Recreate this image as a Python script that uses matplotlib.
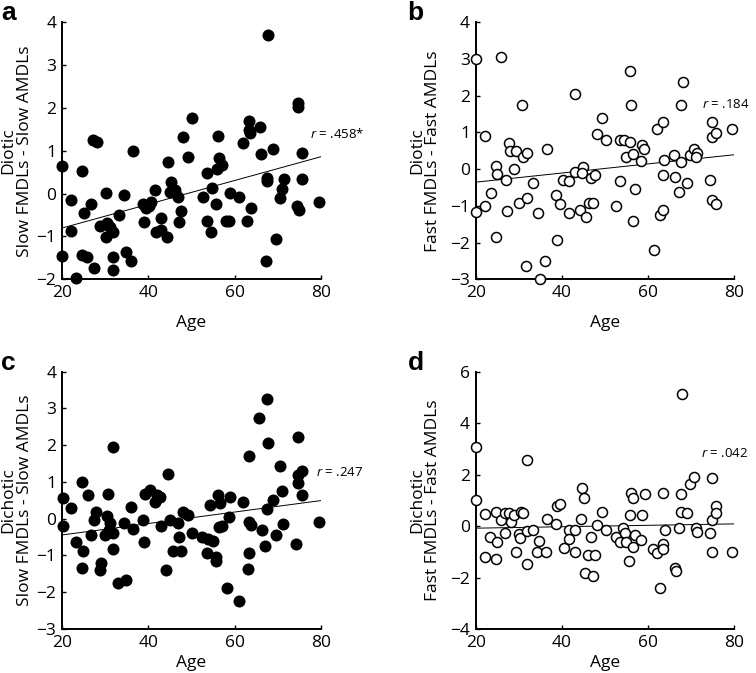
import matplotlib
matplotlib.use('Agg')
import matplotlib.pyplot as plt
import numpy as np

###############################
###          DATA           ###
###############################
# panel a: diotic, slow FMDLs - slow AMDLs
ages_a = [67.8, 74.7, 74.7, 50.2, 63.3, 63.3, 63.6, 65.9, 27.2, 28.2, 48.0, 56.1, 62.0, 36.6, 66.2,
          68.8, 75.6, 49.3, 56.5, 44.6, 20.0, 24.6, 57.0, 55.9, 53.6, 45.4, 67.6, 67.6, 71.4, 75.6,
          54.8, 41.7, 45.1, 46.2, 46.8, 70.9, 59.0, 61.1, 52.6, 30.2, 34.5, 22.1, 26.7, 70.5, 79.5,
          38.7, 40.1, 40.6, 55.6, 39.5, 63.7, 74.4, 74.8, 25.2, 33.2, 47.7, 42.9, 53.6, 58.0, 58.8,
          62.9, 47.2, 39.1, 28.9, 30.4, 31.2, 31.9, 22.1, 41.8, 43.0, 44.3, 54.5, 30.2, 69.6, 20.0,
          24.6, 25.9, 31.9, 34.9, 36.1, 27.5, 31.9, 67.2, 23.3]
vals_a = [3.69, 2.11, 2.01, 1.77, 1.70, 1.49, 1.42, 1.56, 1.25, 1.20, 1.31, 1.35, 1.17, 0.99, 0.92,
          1.04, 0.94, 0.86, 0.84, 0.74, 0.65, 0.53, 0.67, 0.57, 0.47, 0.26, 0.36, 0.30, 0.35, 0.35,
          0.14, 0.085, 0.045, 0.085, -0.07, 0.10, 0.007, -0.07, -0.09, 0.007, -0.03, -0.16, -0.24, -0.11, -0.20,
          -0.24, -0.28, -0.20, -0.24, -0.34, -0.34, -0.29, -0.38, -0.45, -0.50, -0.41, -0.58, -0.63, -0.63, -0.63,
          -0.63, -0.67, -0.67, -0.76, -0.69, -0.79, -0.89, -0.87, -0.89, -0.85, -1.02, -0.89, -1.01, -1.06, -1.45,
          -1.43, -1.49, -1.49, -1.36, -1.57, -1.74, -1.78, -1.57, -1.96]

# panel b: diotic, fast FMDLs - fast AMDLs
ages_b = [20.0, 25.9, 22.2, 20.0, 22.2, 23.5, 24.7, 25.0, 27.0, 24.7, 27.2, 27.7, 28.0, 29.4, 29.0,
          30.7, 31.1, 32.0, 30.1, 32.0, 33.4, 34.5, 31.8, 36.2, 34.9, 36.6, 38.6, 39.6, 39.0, 40.2,
          41.7, 41.7, 43.0, 43.0, 45.0, 44.8, 44.2, 45.6, 46.7, 46.4, 47.3, 47.7, 48.1, 50.2, 49.4,
          52.7, 53.5, 53.5, 54.4, 54.9, 55.8, 55.8, 56.1, 56.6, 57.1, 56.6, 58.6, 59.1, 58.3, 61.5,
          62.2, 63.5, 63.4, 63.7, 62.8, 63.5, 66.0, 66.3, 67.3, 67.6, 69.0, 68.2, 67.6, 69.7, 70.7,
          71.4, 71.1, 75.0, 74.8, 75.8, 74.5, 74.8, 75.8, 79.6]
vals_b = [2.99, 3.04, 0.90, -1.16, -1.00, -0.64, 0.09, -0.14, -0.30, -1.84, -1.14, 0.70, 0.50, 0.49, -0.01,
          1.75, 0.34, 0.43, -0.92, -0.80, -0.39, -1.19, -2.64, -2.50, -2.98, 0.55, -0.71, -0.96, -1.93, -0.30,
          -0.32, -1.19, 2.05, -0.07, 0.07, -0.10, -1.11, -1.30, -0.25, -0.91, -0.91, -0.16, 0.96, 0.79, 1.38,
          -1.01, -0.32, 0.79, 0.79, 0.34, 0.75, 2.68, 1.75, 0.41, -0.53, -1.40, 0.66, 0.54, 0.23, -2.20,
          1.09, 1.29, -0.16, 0.25, -1.25, -1.11, 0.39, -0.21, -0.62, 0.20, -0.39, 2.38, 1.75, 0.38, 0.55,
          0.45, 0.34, 1.29, 0.88, 0.99, -0.30, -0.84, -0.95, 1.09]

# panel c: dichotic, slow FMDLs - slow AMDLs
ages_c = [67.6, 65.7, 67.8, 74.7, 31.8, 63.3, 70.4, 44.6, 74.7, 75.6, 74.7, 24.6, 20.2, 22.1, 26.1,
          30.6, 39.3, 40.4, 42.0, 42.7, 41.6, 36.1, 27.9, 27.5, 30.4, 31.2, 31.0, 31.9, 30.0, 20.2,
          23.3, 25.0, 26.8, 24.6, 29.2, 28.9, 31.8, 34.4, 36.6, 38.7, 39.1, 33.1, 34.9, 42.9, 45.1,
          46.8, 48.0, 49.3, 47.1, 45.8, 47.5, 44.1, 50.2, 52.5, 53.9, 54.9, 53.6, 55.7, 55.7, 54.3,
          56.1, 56.6, 59.0, 58.6, 56.3, 57.0, 58.2, 61.1, 61.9, 63.3, 63.7, 66.3, 63.3, 63.0, 67.1,
          67.6, 68.8, 70.9, 69.6, 71.3, 75.5, 74.2, 79.5]
vals_c = [3.25, 2.75, 2.05, 2.21, 1.96, 1.71, 1.44, 1.21, 1.19, 1.30, 0.96, 1.01, 0.56, 0.28, 0.65,
          0.66, 0.66, 0.78, 0.65, 0.60, 0.45, 0.31, 0.19, -0.03, 0.08, -0.12, -0.31, -0.40, -0.44, -0.19,
          -0.64, -0.87, -0.44, -1.33, -1.21, -1.39, -0.83, -0.12, -0.29, -0.04, -0.64, -1.74, -1.68, -0.20, -0.04,
          -0.12, 0.17, 0.10, -0.51, -0.89, -0.87, -1.39, -0.38, -0.49, -0.55, -0.61, -0.94, -1.03, -1.14, 0.36,
          0.65, 0.44, 0.60, 0.06, -0.22, -0.19, -1.89, -2.23, 0.45, -0.08, -0.18, -0.31, -0.94, -1.38, -0.74,
          0.26, 0.51, 0.76, -0.44, -0.14, 0.65, -0.69, -0.10]

# panel d: dichotic, fast FMDLs - fast AMDLs
ages_d = [20.1, 20.1, 68.0, 32.0, 22.2, 24.7, 25.9, 26.8, 27.8, 28.1, 28.9, 30.5, 31.1, 23.3, 25.0,
          26.8, 22.2, 24.7, 30.1, 30.3, 29.4, 32.0, 33.2, 32.0, 34.8, 34.3, 36.3, 36.6, 38.6, 38.9,
          39.7, 40.5, 41.7, 41.7, 43.0, 43.0, 44.4, 44.8, 45.1, 46.9, 46.1, 47.7, 45.5, 47.3, 48.1,
          49.4, 50.2, 52.7, 53.5, 54.2, 54.6, 54.9, 55.8, 56.0, 56.6, 57.0, 56.6, 58.4, 55.7, 58.6,
          59.3, 61.2, 62.1, 63.4, 63.5, 63.9, 63.4, 62.9, 66.2, 66.5, 67.2, 67.6, 67.8, 69.0, 69.7,
          70.7, 71.1, 71.4, 75.0, 74.5, 74.8, 75.8, 75.8, 74.9, 79.6]
vals_d = [3.06, 1.01, 5.13, 2.57, 0.46, 0.56, 0.24, 0.50, 0.52, 0.17, 0.43, 0.56, 0.50, -0.41, -0.63,
          -0.26, -1.21, -1.28, -0.31, -0.48, -1.00, -0.18, -0.15, -1.49, -0.57, -1.00, -1.00, 0.27, 0.08, 0.78,
          0.86, -0.84, -0.15, -0.50, -0.15, -1.00, 0.27, 1.49, 1.08, -0.41, -1.13, -1.13, -1.84, -1.93, 0.04,
          0.56, -0.15, -0.41, -0.60, -0.09, -0.28, -0.63, 0.43, 1.27, 1.08, -0.35, -0.80, -0.54, -1.34, 0.43,
          1.25, -0.90, -1.06, -0.70, -0.90, -0.15, 1.30, -2.42, -1.64, -1.73, -0.06, 1.23, 0.56, 0.50, 1.62,
          1.92, -0.06, -0.22, 1.88, -0.28, 0.24, 0.79, 0.49, -1.00, -1.00]

r_labels = ['.458*', '.184', '.247', '.042']
ylabels = ['Diotic\nSlow FMDLs - Slow AMDLs', 'Diotic\nFast FMDLs - Fast AMDLs',
           'Dichotic\nSlow FMDLs - Slow AMDLs', 'Dichotic\nFast FMDLs - Fast AMDLs']
panel_letters = ['a', 'b', 'c', 'd']
ylims = [(-2, 4), (-3, 4), (-3, 4), (-4, 6)]
yticks = [np.arange(-2, 5), np.arange(-3, 5), np.arange(-3, 5), np.arange(-4, 7, 2)]
xticks = [20, 40, 60, 80]
# where the r text sits (age, value)
r_pos = [(77.5, 1.40), (72.6, 1.75), (78.8, 1.26), (72.4, 2.83)]


###############################
###        STYLE            ###
###############################
plt.rcParams['font.family'] = ['Open Sans', 'DejaVu Sans']
plt.rcParams['mathtext.fontset'] = 'custom'
plt.rcParams['mathtext.it'] = 'Open Sans:italic'
plt.rcParams['mathtext.rm'] = 'Open Sans'
FS = 12.5

fig = plt.figure(figsize=(7.56, 6.73), dpi=100)

# axes boxes in figure fractions
boxes = [[0.0816, 0.585, 0.343, 0.382],
         [0.6292, 0.585, 0.3417, 0.382],
         [0.0816, 0.0654, 0.343, 0.3823],
         [0.6292, 0.0654, 0.3417, 0.3823]]
label_x = [-0.112, -0.135, -0.112, -0.135]
xlabel_pad = [10, 10, 3, 3]
# panel letter anchors (top-left corner, figure fractions)
letter_pos = [(0.001, 0.998), (0.539, 0.998), (0.001, 0.478), (0.539, 0.478)]

all_ages = [ages_a, ages_b, ages_c, ages_d]
all_vals = [vals_a, vals_b, vals_c, vals_d]
filled = [True, False, True, False]

for i in range(4):
    ax = fig.add_axes(boxes[i])
    x = np.array(all_ages[i])
    y = np.array(all_vals[i])

    # scatter
    if filled[i]:
        ax.scatter(x, y, s=75, c='black', edgecolors='black', linewidths=0, clip_on=False, zorder=3)
    else:
        ax.scatter(x, y, s=52, facecolors='white', edgecolors='black', linewidths=1.1, clip_on=False, zorder=3)

    # least squares line
    slope, icept = np.polyfit(x, y, 1)
    xl = np.array([20, 80])
    ax.plot(xl, slope * xl + icept, color='black', lw=0.7, zorder=2)

    ax.text(r_pos[i][0], r_pos[i][1], '$r$ = ' + r_labels[i], fontsize=9.5, va='center', ha='left')

    ax.set_xlim(20, 80)
    ax.set_ylim(*ylims[i])
    ax.set_xticks(xticks)
    ax.set_yticks(yticks[i])
    ax.tick_params(direction='in', length=3, width=1, labelsize=FS, pad=4)
    ax.spines['top'].set_visible(False)
    ax.spines['right'].set_visible(False)
    ax.spines['left'].set_linewidth(1.4)
    ax.spines['bottom'].set_linewidth(1.4)
    ax.set_xlabel('Age', fontsize=FS, labelpad=xlabel_pad[i])
    ax.set_ylabel(ylabels[i], fontsize=FS, linespacing=1.0)
    ax.yaxis.set_label_coords(label_x[i], 0.5)

    # panel letter
    fig.text(letter_pos[i][0], letter_pos[i][1], panel_letters[i], fontsize=19,
             fontweight='bold', family='Liberation Sans', ha='left', va='top')

fig.savefig('out.png', dpi=100)
